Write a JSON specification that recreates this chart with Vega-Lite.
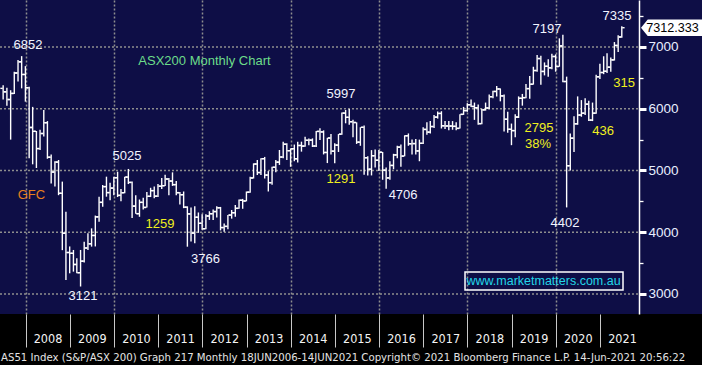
{
  "$schema": "https://vega.github.io/schema/vega-lite/v6.json",
  "width": 702,
  "height": 314,
  "autosize": {"type": "none"},
  "padding": {"left": 0, "top": 0, "right": 0, "bottom": 51},
  "background": "#000000",
  "config": {"view": {"stroke": null, "fill": "#0e0e46"}},
  "title": {
    "text": "AS51 Index (S&P/ASX 200) Graph 217  Monthly 18JUN2006-14JUN2021 Copyright\u00a9 2021 Bloomberg Finance L.P. 14-Jun-2021 20:56:22",
    "orient": "bottom", "anchor": "start", "frame": "group", "offset": 4, "dx": 1,
    "font": "DejaVu Sans Condensed, sans-serif", "fontSize": 11.3, "fontWeight": "normal", "color": "#e4e4e4"
  },
  "resolve": {"axis": {"x": "independent", "y": "independent"}},
  "datasets": {
    "ohlc": [
      {"d":"2007-06-30","o":6330,"h":6380,"l":6150,"c":6274},
      {"d":"2007-07-31","o":6274,"h":6340,"l":6050,"c":6149},
      {"d":"2007-08-31","o":6149,"h":6300,"l":5500,"c":6248},
      {"d":"2007-09-30","o":6248,"h":6600,"l":6240,"c":6580},
      {"d":"2007-10-31","o":6580,"h":6790,"l":6440,"c":6760},
      {"d":"2007-11-30","o":6760,"h":6852,"l":6330,"c":6555},
      {"d":"2007-12-31","o":6555,"h":6690,"l":6115,"c":6340},
      {"d":"2008-01-31","o":6340,"h":6358,"l":5197,"c":5697},
      {"d":"2008-02-29","o":5697,"h":6030,"l":5100,"c":5634},
      {"d":"2008-03-31","o":5634,"h":5640,"l":5040,"c":5355},
      {"d":"2008-04-30","o":5355,"h":5660,"l":5330,"c":5599},
      {"d":"2008-05-31","o":5599,"h":5980,"l":5550,"c":5774},
      {"d":"2008-06-30","o":5774,"h":5800,"l":5190,"c":5215},
      {"d":"2008-07-31","o":5215,"h":5260,"l":4790,"c":4975},
      {"d":"2008-08-31","o":4975,"h":5150,"l":4740,"c":5136},
      {"d":"2008-09-30","o":5136,"h":5170,"l":4600,"c":4631},
      {"d":"2008-10-31","o":4631,"h":4820,"l":3710,"c":3983},
      {"d":"2008-11-30","o":3983,"h":4330,"l":3227,"c":3672},
      {"d":"2008-12-31","o":3672,"h":3770,"l":3335,"c":3659},
      {"d":"2009-01-31","o":3659,"h":3713,"l":3362,"c":3478},
      {"d":"2009-02-28","o":3478,"h":3578,"l":3335,"c":3345},
      {"d":"2009-03-31","o":3345,"h":3713,"l":3121,"c":3532},
      {"d":"2009-04-30","o":3532,"h":3847,"l":3510,"c":3745},
      {"d":"2009-05-31","o":3745,"h":3982,"l":3713,"c":3813},
      {"d":"2009-06-30","o":3813,"h":4063,"l":3767,"c":3948},
      {"d":"2009-07-31","o":3948,"h":4270,"l":3770,"c":4249},
      {"d":"2009-08-31","o":4249,"h":4576,"l":4170,"c":4484},
      {"d":"2009-09-30","o":4484,"h":4765,"l":4414,"c":4739},
      {"d":"2009-10-31","o":4739,"h":4900,"l":4576,"c":4642},
      {"d":"2009-11-30","o":4642,"h":4800,"l":4520,"c":4715},
      {"d":"2009-12-31","o":4715,"h":4900,"l":4600,"c":4883},
      {"d":"2010-01-31","o":4883,"h":4980,"l":4570,"c":4597},
      {"d":"2010-02-28","o":4597,"h":4700,"l":4500,"c":4640},
      {"d":"2010-03-31","o":4640,"h":4900,"l":4630,"c":4893},
      {"d":"2010-04-30","o":4893,"h":5025,"l":4780,"c":4807},
      {"d":"2010-05-31","o":4807,"h":4820,"l":4230,"c":4423},
      {"d":"2010-06-30","o":4423,"h":4600,"l":4300,"c":4301},
      {"d":"2010-07-31","o":4301,"h":4530,"l":4250,"c":4484},
      {"d":"2010-08-31","o":4484,"h":4560,"l":4370,"c":4402},
      {"d":"2010-09-30","o":4402,"h":4650,"l":4400,"c":4582},
      {"d":"2010-10-31","o":4582,"h":4720,"l":4570,"c":4674},
      {"d":"2010-11-30","o":4674,"h":4740,"l":4550,"c":4584},
      {"d":"2010-12-31","o":4584,"h":4780,"l":4570,"c":4745},
      {"d":"2011-01-31","o":4745,"h":4880,"l":4700,"c":4754},
      {"d":"2011-02-28","o":4754,"h":4930,"l":4750,"c":4862},
      {"d":"2011-03-31","o":4862,"h":4880,"l":4600,"c":4829},
      {"d":"2011-04-30","o":4829,"h":4970,"l":4750,"c":4771},
      {"d":"2011-05-31","o":4771,"h":4830,"l":4600,"c":4641},
      {"d":"2011-06-30","o":4641,"h":4650,"l":4450,"c":4608},
      {"d":"2011-07-31","o":4608,"h":4660,"l":4390,"c":4406},
      {"d":"2011-08-31","o":4406,"h":4420,"l":3766,"c":4297},
      {"d":"2011-09-30","o":4297,"h":4400,"l":3850,"c":3986},
      {"d":"2011-10-31","o":3986,"h":4420,"l":3820,"c":4243},
      {"d":"2011-11-30","o":4243,"h":4320,"l":3990,"c":4145},
      {"d":"2011-12-31","o":4145,"h":4290,"l":4040,"c":4057},
      {"d":"2012-01-31","o":4057,"h":4290,"l":4050,"c":4263},
      {"d":"2012-02-29","o":4263,"h":4340,"l":4200,"c":4300},
      {"d":"2012-03-31","o":4300,"h":4370,"l":4200,"c":4335},
      {"d":"2012-04-30","o":4335,"h":4420,"l":4240,"c":4396},
      {"d":"2012-05-31","o":4396,"h":4410,"l":4030,"c":4076},
      {"d":"2012-06-30","o":4076,"h":4140,"l":4010,"c":4095},
      {"d":"2012-07-31","o":4095,"h":4280,"l":4050,"c":4278},
      {"d":"2012-08-31","o":4278,"h":4360,"l":4220,"c":4316},
      {"d":"2012-09-30","o":4316,"h":4440,"l":4250,"c":4387},
      {"d":"2012-10-31","o":4387,"h":4530,"l":4380,"c":4518},
      {"d":"2012-11-30","o":4518,"h":4540,"l":4380,"c":4506},
      {"d":"2012-12-31","o":4506,"h":4660,"l":4500,"c":4649},
      {"d":"2013-01-31","o":4649,"h":4900,"l":4640,"c":4879},
      {"d":"2013-02-28","o":4879,"h":5116,"l":4870,"c":5104},
      {"d":"2013-03-31","o":5104,"h":5170,"l":4927,"c":4967},
      {"d":"2013-04-30","o":4967,"h":5197,"l":4927,"c":5191},
      {"d":"2013-05-31","o":5191,"h":5220,"l":4870,"c":4926},
      {"d":"2013-06-30","o":4926,"h":4990,"l":4660,"c":4803},
      {"d":"2013-07-31","o":4803,"h":5060,"l":4770,"c":5052},
      {"d":"2013-08-31","o":5052,"h":5170,"l":4970,"c":5135},
      {"d":"2013-09-30","o":5135,"h":5332,"l":5090,"c":5218},
      {"d":"2013-10-31","o":5218,"h":5467,"l":5200,"c":5425},
      {"d":"2013-11-30","o":5425,"h":5440,"l":5170,"c":5321},
      {"d":"2013-12-31","o":5321,"h":5359,"l":5060,"c":5352},
      {"d":"2014-01-31","o":5352,"h":5420,"l":5150,"c":5190},
      {"d":"2014-02-28","o":5190,"h":5467,"l":5130,"c":5405},
      {"d":"2014-03-31","o":5405,"h":5467,"l":5305,"c":5395},
      {"d":"2014-04-30","o":5395,"h":5548,"l":5386,"c":5489},
      {"d":"2014-05-31","o":5489,"h":5520,"l":5410,"c":5492},
      {"d":"2014-06-30","o":5492,"h":5520,"l":5380,"c":5396},
      {"d":"2014-07-31","o":5396,"h":5640,"l":5380,"c":5633},
      {"d":"2014-08-31","o":5633,"h":5683,"l":5494,"c":5625},
      {"d":"2014-09-30","o":5625,"h":5650,"l":5260,"c":5292},
      {"d":"2014-10-31","o":5292,"h":5530,"l":5120,"c":5526},
      {"d":"2014-11-30","o":5526,"h":5590,"l":5260,"c":5313},
      {"d":"2014-12-31","o":5313,"h":5440,"l":5116,"c":5411},
      {"d":"2015-01-31","o":5411,"h":5590,"l":5300,"c":5588},
      {"d":"2015-02-28","o":5588,"h":5940,"l":5580,"c":5929},
      {"d":"2015-03-31","o":5929,"h":5980,"l":5764,"c":5861},
      {"d":"2015-04-30","o":5861,"h":5997,"l":5740,"c":5790},
      {"d":"2015-05-31","o":5790,"h":5820,"l":5540,"c":5777},
      {"d":"2015-06-30","o":5777,"h":5780,"l":5430,"c":5459},
      {"d":"2015-07-31","o":5459,"h":5700,"l":5400,"c":5699},
      {"d":"2015-08-31","o":5699,"h":5730,"l":4930,"c":5207},
      {"d":"2015-09-30","o":5207,"h":5230,"l":4920,"c":5021},
      {"d":"2015-10-31","o":5021,"h":5330,"l":4920,"c":5239},
      {"d":"2015-11-30","o":5239,"h":5340,"l":5050,"c":5166},
      {"d":"2015-12-31","o":5166,"h":5330,"l":4990,"c":5296},
      {"d":"2016-01-31","o":5296,"h":5300,"l":4850,"c":5005},
      {"d":"2016-02-29","o":5005,"h":5050,"l":4706,"c":4880},
      {"d":"2016-03-31","o":4880,"h":5150,"l":4850,"c":5082},
      {"d":"2016-04-30","o":5082,"h":5270,"l":5020,"c":5252},
      {"d":"2016-05-31","o":5252,"h":5400,"l":5200,"c":5378},
      {"d":"2016-06-30","o":5378,"h":5420,"l":5060,"c":5233},
      {"d":"2016-07-31","o":5233,"h":5570,"l":5230,"c":5562},
      {"d":"2016-08-31","o":5562,"h":5600,"l":5400,"c":5433},
      {"d":"2016-09-30","o":5433,"h":5500,"l":5260,"c":5436},
      {"d":"2016-10-31","o":5436,"h":5510,"l":5260,"c":5317},
      {"d":"2016-11-30","o":5317,"h":5500,"l":5150,"c":5440},
      {"d":"2016-12-31","o":5440,"h":5700,"l":5430,"c":5665},
      {"d":"2017-01-31","o":5665,"h":5780,"l":5580,"c":5621},
      {"d":"2017-02-28","o":5621,"h":5800,"l":5600,"c":5712},
      {"d":"2017-03-31","o":5712,"h":5900,"l":5690,"c":5864},
      {"d":"2017-04-30","o":5864,"h":5956,"l":5840,"c":5924},
      {"d":"2017-05-31","o":5924,"h":5960,"l":5680,"c":5724},
      {"d":"2017-06-30","o":5724,"h":5800,"l":5670,"c":5721},
      {"d":"2017-07-31","o":5721,"h":5800,"l":5650,"c":5720},
      {"d":"2017-08-31","o":5720,"h":5800,"l":5660,"c":5715},
      {"d":"2017-09-30","o":5715,"h":5780,"l":5650,"c":5682},
      {"d":"2017-10-31","o":5682,"h":5910,"l":5680,"c":5909},
      {"d":"2017-11-30","o":5909,"h":6030,"l":5900,"c":5970},
      {"d":"2017-12-31","o":5970,"h":6090,"l":5950,"c":6065},
      {"d":"2018-01-31","o":6065,"h":6150,"l":6030,"c":6037},
      {"d":"2018-02-28","o":6037,"h":6100,"l":5820,"c":6016},
      {"d":"2018-03-31","o":6016,"h":6070,"l":5740,"c":5759},
      {"d":"2018-04-30","o":5759,"h":6000,"l":5750,"c":5982},
      {"d":"2018-05-31","o":5982,"h":6100,"l":5970,"c":6012},
      {"d":"2018-06-30","o":6012,"h":6230,"l":5990,"c":6195},
      {"d":"2018-07-31","o":6195,"h":6290,"l":6170,"c":6280},
      {"d":"2018-08-31","o":6280,"h":6370,"l":6200,"c":6320},
      {"d":"2018-09-30","o":6320,"h":6330,"l":6120,"c":6208},
      {"d":"2018-10-31","o":6208,"h":6230,"l":5630,"c":5830},
      {"d":"2018-11-30","o":5830,"h":5950,"l":5610,"c":5667},
      {"d":"2018-12-31","o":5667,"h":5760,"l":5410,"c":5646},
      {"d":"2019-01-31","o":5646,"h":5910,"l":5540,"c":5865},
      {"d":"2019-02-28","o":5865,"h":6200,"l":5850,"c":6169},
      {"d":"2019-03-31","o":6169,"h":6240,"l":6050,"c":6180},
      {"d":"2019-04-30","o":6180,"h":6400,"l":6170,"c":6326},
      {"d":"2019-05-31","o":6326,"h":6530,"l":6160,"c":6397},
      {"d":"2019-06-30","o":6397,"h":6680,"l":6390,"c":6619},
      {"d":"2019-07-31","o":6619,"h":6870,"l":6600,"c":6813},
      {"d":"2019-08-31","o":6813,"h":6860,"l":6390,"c":6604},
      {"d":"2019-09-30","o":6604,"h":6750,"l":6540,"c":6688},
      {"d":"2019-10-31","o":6688,"h":6800,"l":6520,"c":6663},
      {"d":"2019-11-30","o":6663,"h":6890,"l":6640,"c":6846},
      {"d":"2019-12-31","o":6846,"h":6880,"l":6600,"c":6684},
      {"d":"2020-01-31","o":6684,"h":7140,"l":6680,"c":7017},
      {"d":"2020-02-29","o":7017,"h":7197,"l":6430,"c":6441},
      {"d":"2020-03-31","o":6441,"h":6520,"l":4402,"c":5077},
      {"d":"2020-04-30","o":5077,"h":5600,"l":5000,"c":5523},
      {"d":"2020-05-31","o":5523,"h":5880,"l":5300,"c":5756},
      {"d":"2020-06-30","o":5756,"h":6200,"l":5740,"c":5898},
      {"d":"2020-07-31","o":5898,"h":6140,"l":5870,"c":5928},
      {"d":"2020-08-31","o":5928,"h":6170,"l":5900,"c":6074},
      {"d":"2020-09-30","o":6074,"h":6130,"l":5800,"c":5816},
      {"d":"2020-10-31","o":5816,"h":6100,"l":5800,"c":5928},
      {"d":"2020-11-30","o":5928,"h":6550,"l":5920,"c":6518},
      {"d":"2020-12-31","o":6518,"h":6730,"l":6480,"c":6587},
      {"d":"2021-01-31","o":6587,"h":6850,"l":6560,"c":6607},
      {"d":"2021-02-28","o":6607,"h":6900,"l":6580,"c":6673},
      {"d":"2021-03-31","o":6673,"h":6830,"l":6600,"c":6791},
      {"d":"2021-04-30","o":6791,"h":7080,"l":6780,"c":7025},
      {"d":"2021-05-31","o":7025,"h":7190,"l":6920,"c":7162},
      {"d":"2021-06-30","o":7162,"h":7335,"l":7150,"c":7312}
    ],
    "levels": [{"v":3000},{"v":4000},{"v":5000},{"v":6000},{"v":7000}],
    "notes": [
      {"d":"2008-01-22","v":7032,"t":"6852","k":"level"},
      {"d":"2012-01-19","v":6773,"t":"ASX200 Monthly Chart","k":"title"},
      {"d":"2008-02-19","v":4603,"t":"GFC","k":"gfc"},
      {"d":"2009-04-20","v":2968,"t":"3121","k":"level"},
      {"d":"2010-04-19","v":5235,"t":"5025","k":"level"},
      {"d":"2011-01-17","v":4134,"t":"1259","k":"move"},
      {"d":"2012-01-28","v":3567,"t":"3766","k":"level"},
      {"d":"2015-02-21","v":6239,"t":"5997","k":"level"},
      {"d":"2015-02-21","v":4862,"t":"1291","k":"move"},
      {"d":"2016-07-18","v":4603,"t":"4706","k":"level"},
      {"d":"2019-10-21","v":7291,"t":"7197","k":"level"},
      {"d":"2021-05-22","v":7502,"t":"7335","k":"level"},
      {"d":"2021-07-19","v":6417,"t":"315","k":"move"},
      {"d":"2019-08-16","v":5688,"t":"2795","k":"move"},
      {"d":"2019-08-08","v":5429,"t":"38%","k":"move"},
      {"d":"2021-01-27","v":5640,"t":"436","k":"move"},
      {"d":"2020-03-18","v":4150,"t":"4402","k":"level"}
    ],
    "site": [{"a":"2017-12-12","b":"2021-07-10","lo":3065,"hi":3356,"m":"2019-09-22","v":3211,"t":"www.marketmatters.com.au"}],
    "tag": [{"d":"2022-08-15","v":7312.333,"t":"7312.333"}]
  },
  "layer": [
    {
      "data": {"name": "levels"},
      "mark": {"type": "rule", "color": "#8e8e8e", "strokeWidth": 1.5, "strokeDash": [2, 2]},
      "encoding": {
        "y": {"field": "v", "type": "quantitative", "axis": null},
        "x": {"datum": {"year": 2007, "month": 6, "date": 4, "utc": true}, "type": "temporal", "axis": null},
        "x2": {"datum": {"year": 2021, "month": 11, "date": 19, "utc": true}}
      }
    },
    {
      "data": {"name": "ohlc"},
      "mark": {"type": "rule", "color": "#ffffff", "strokeWidth": 1.4},
      "encoding": {
        "x": {"field": "d", "type": "temporal",
          "scale": {"type": "utc", "domain": [{"year": 2007, "month": 6, "date": 4, "utc": true}, {"year": 2023, "month": 4, "date": 24, "utc": true}]},
          "axis": {
            "values": [
              {"year": 2008, "month": 1, "date": 1, "utc": true}, {"year": 2009, "month": 1, "date": 1, "utc": true},
              {"year": 2010, "month": 1, "date": 1, "utc": true}, {"year": 2011, "month": 1, "date": 1, "utc": true},
              {"year": 2012, "month": 1, "date": 1, "utc": true}, {"year": 2013, "month": 1, "date": 1, "utc": true},
              {"year": 2014, "month": 1, "date": 1, "utc": true}, {"year": 2015, "month": 1, "date": 1, "utc": true},
              {"year": 2016, "month": 1, "date": 1, "utc": true}, {"year": 2017, "month": 1, "date": 1, "utc": true},
              {"year": 2018, "month": 1, "date": 1, "utc": true}, {"year": 2019, "month": 1, "date": 1, "utc": true},
              {"year": 2020, "month": 1, "date": 1, "utc": true}, {"year": 2021, "month": 1, "date": 1, "utc": true}
            ],
            "format": "%Y", "domain": false,
            "grid": true, "gridColor": "#8e8e8e", "gridWidth": 1.5, "gridDash": [2, 2],
            "gridOpacity": {"condition": {"test": "utcyear(datum.value) % 2 === 0", "value": 1}, "value": 0},
            "tickColor": "#c8c8c8", "tickSize": 33, "tickWidth": 1,
            "labelColor": "#f4f4f4", "labelFont": "DejaVu Sans Condensed, sans-serif", "labelFontSize": 12.5,
            "labelOffset": 22, "labelAlign": "center", "labelBaseline": "top", "labelPadding": -15, "labelOverlap": false,
            "title": null
          }
        },
        "y": {"field": "l", "type": "quantitative",
          "scale": {"domain": [2676, 7761], "nice": false, "zero": false},
          "axis": {
            "orient": "right", "offset": -63, "grid": false,
            "values": [3000, 3500, 4000, 4500, 5000, 5500, 6000, 6500, 7000, 7500],
            "labelExpr": "datum.value % 1000 === 0 ? datum.label : ''", "format": "d",
            "domainColor": "#ffffff", "domainWidth": 1.5,
            "tickColor": "#ffffff",
            "tickSize": {"condition": {"test": "datum.value % 1000 === 0", "value": 7}, "value": 4},
            "tickWidth": {"condition": {"test": "datum.value % 1000 === 0", "value": 3}, "value": 1.3},
            "labelColor": "#e8efff", "labelFont": "Liberation Sans, Arial, sans-serif", "labelFontSize": 13.5,
            "labelPadding": 2, "labelBaseline": "middle", "title": null
          }
        },
        "y2": {"field": "h"}
      }
    },
    {
      "mark": {"type": "rule", "color": "#ffffff", "strokeWidth": 1.5},
      "encoding": {
        "y": {"datum": 2676, "type": "quantitative", "axis": null},
        "x": {"datum": {"year": 2007, "month": 6, "date": 4, "utc": true}, "type": "temporal", "axis": null},
        "x2": {"datum": {"year": 2021, "month": 11, "date": 19, "utc": true}}
      }
    },
    {
      "data": {"name": "ohlc"},
      "mark": {"type": "tick", "orient": "horizontal", "color": "#ffffff", "size": 2.4, "thickness": 1.4, "xOffset": -1.6, "opacity": 1},
      "encoding": {
        "x": {"field": "d", "type": "temporal", "axis": null},
        "y": {"field": "o", "type": "quantitative", "axis": null}
      }
    },
    {
      "data": {"name": "ohlc"},
      "mark": {"type": "tick", "orient": "horizontal", "color": "#ffffff", "size": 2.4, "thickness": 1.4, "xOffset": 1.6, "opacity": 1},
      "encoding": {
        "x": {"field": "d", "type": "temporal", "axis": null},
        "y": {"field": "c", "type": "quantitative", "axis": null}
      }
    },
    {
      "data": {"name": "notes"},
      "mark": {"type": "text", "font": "Liberation Sans, Arial, sans-serif", "fontSize": 13, "align": "center", "baseline": "middle"},
      "encoding": {
        "x": {"field": "d", "type": "temporal", "axis": null},
        "y": {"field": "v", "type": "quantitative", "axis": null},
        "text": {"field": "t"},
        "color": {"field": "k", "type": "nominal", "legend": null,
          "scale": {"domain": ["level", "move", "gfc", "title"], "range": ["#f2f4ff", "#f0f01e", "#e8801c", "#6cdc8a"]}}
      }
    },
    {
      "data": {"name": "site"},
      "mark": {"type": "rect", "fill": null, "fillOpacity": 0, "stroke": "#ffffff", "strokeWidth": 1.5},
      "encoding": {
        "x": {"field": "a", "type": "temporal", "axis": null},
        "x2": {"field": "b"},
        "y": {"field": "lo", "type": "quantitative", "axis": null},
        "y2": {"field": "hi"}
      }
    },
    {
      "data": {"name": "site"},
      "mark": {"type": "text", "font": "Liberation Sans, Arial, sans-serif", "fontSize": 12.5, "align": "center", "baseline": "middle", "color": "#22d6e8"},
      "encoding": {
        "x": {"field": "m", "type": "temporal", "axis": null},
        "y": {"field": "v", "type": "quantitative", "axis": null},
        "text": {"field": "t"}
      }
    },
    {
      "data": {"name": "tag"},
      "mark": {"type": "point", "filled": true, "color": "#ffffff", "opacity": 1, "size": 3721,
        "shape": "M -1 0 L -0.78 -0.27 L 1 -0.27 L 1 0.27 L -0.78 0.27 Z"},
      "encoding": {
        "x": {"field": "d", "type": "temporal", "axis": null},
        "y": {"field": "v", "type": "quantitative", "axis": null}
      }
    },
    {
      "data": {"name": "tag"},
      "mark": {"type": "text", "font": "Liberation Sans, Arial, sans-serif", "fontSize": 12.6, "align": "center", "baseline": "middle", "color": "#000000", "dx": 1},
      "encoding": {
        "x": {"field": "d", "type": "temporal", "axis": null},
        "y": {"field": "v", "type": "quantitative", "axis": null},
        "text": {"field": "t"}
      }
    }
  ]
}
